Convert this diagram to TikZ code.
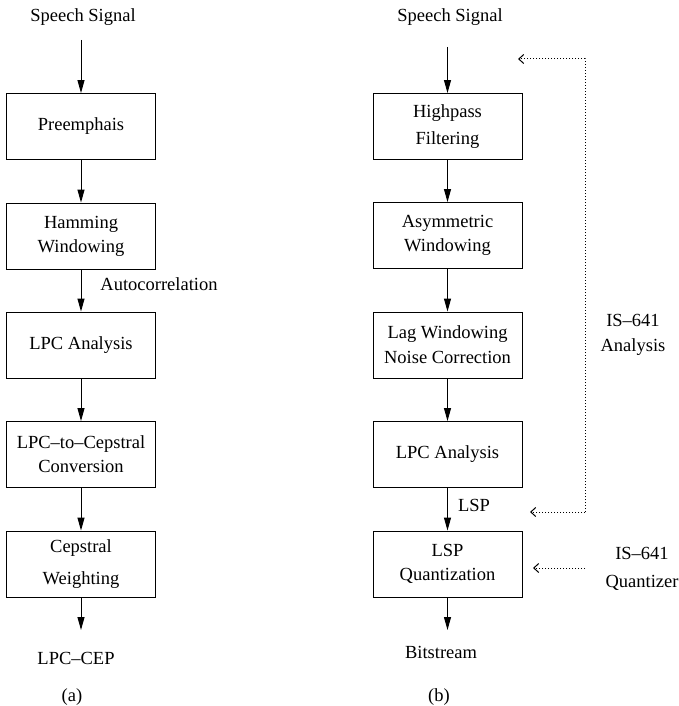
\documentclass[tikz,border=0pt]{standalone}
\usepackage{fontspec}
\setmainfont{Liberation Serif}
\usetikzlibrary{arrows.meta}
\begin{document}
\begin{tikzpicture}[x=1pt,y=-1pt,
  every node/.style={font=\fontsize{18.5}{24}\selectfont, inner sep=0pt},
  blk/.style={draw, line width=0.9pt, minimum width=149pt, minimum height=66pt, align=center},
  lbl/.style={align=center},
  flow/.style={line width=1pt, -{Triangle[length=13pt,width=7pt]}},
  fb/.style={dotted, line width=1pt, -{Straight Barb[length=5pt,width=9pt]}}]
\useasboundingbox (0,0) rectangle (679,706);
% Left column (a)
\node[lbl] (sa) at (83,17) {Speech Signal};
\coordinate (sa0) at (81,40);
\node[blk] (a1) at (81,126.5) {Preemphais};
\node[blk] (a2) at (81,236) {Hamming\\Windowing};
\node[blk] (a3) at (81,345) {LPC Analysis};
\node[blk] (a4) at (81,454.5) {LPC--to--Cepstral\\Conversion};
\node[blk, font=\fontsize{18.5}{32}\selectfont] (a5) at (81,564) {Cepstral\\Weighting};
\coordinate (ae) at (81,630);
\node[lbl] (aout) at (76,658) {LPC--CEP};
\node[lbl] (acap) at (72,697) {(a)};
\node[lbl] (auto) at (159,284) {Autocorrelation};
\draw[flow] (sa0) -- (a1);
\draw[flow] (a1) -- (a2);
\draw[flow] (a2) -- (a3);
\draw[flow] (a3) -- (a4);
\draw[flow] (a4) -- (a5);
\draw[flow] (a5) -- (ae);
% Right column (b)
\node[lbl] (sb) at (450,17) {Speech Signal};
\coordinate (sb0) at (447.5,47);
\node[blk, font=\fontsize{18.5}{27}\selectfont] (b1) at (447.5,126.5) {Highpass\\Filtering};
\node[blk] (b2) at (447.5,235.5) {Asymmetric\\Windowing};
\node[blk, font=\fontsize{18.5}{25}\selectfont] (b3) at (447.5,345) {Lag Windowing\\Noise Correction};
\node[blk] (b4) at (447.5,454.5) {LPC Analysis};
\node[blk] (b5) at (447.5,564) {LSP\\Quantization};
\coordinate (be) at (447.5,630);
\node[lbl] (bout) at (441,652) {Bitstream};
\node[lbl] (bcap) at (439,697) {(b)};
\node[lbl] (lsp) at (474,505) {LSP};
\draw[flow] (sb0) -- (b1);
\draw[flow] (b1) -- (b2);
\draw[flow] (b2) -- (b3);
\draw[flow] (b3) -- (b4);
\draw[flow] (b4) -- (b5);
\draw[flow] (b5) -- (be);
% Feedback (dotted)
\node[lbl, font=\fontsize{18.5}{25}\selectfont] (isa) at (633,334.5) {IS--641\\Analysis};
\node[lbl, font=\fontsize{18.5}{28}\selectfont] (isq) at (642,569) {IS--641\\Quantizer};
\coordinate (ftop) at (518,59);
\coordinate (fc1) at (585,59);
\coordinate (fc2) at (585,512);
\coordinate (fbot) at (530,512);
\coordinate (qs) at (585,568);
\coordinate (qe) at (533,568);
\draw[fb] (fc2) -- (fc1) -- (ftop);
\draw[fb] (fc2) -- (fbot);
\draw[fb] (qs) -- (qe);
\end{tikzpicture}
\end{document}
